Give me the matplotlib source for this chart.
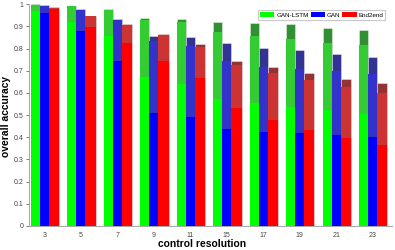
import matplotlib
matplotlib.use("Agg")
import matplotlib.pyplot as plt
import numpy as np
from matplotlib.patches import Patch

plt.rcParams['font.family'] = ['Liberation Sans', 'DejaVu Sans']

categories = ['3', '5', '7', '9', '11', '15', '17', '19', '21', '23']
series = ['GAN-LSTM', 'GAN', 'End2end']

# upper (max), middle, lower (min) accuracy values per series
gan_lstm_top = [1.000, 0.992, 0.979, 0.937, 0.935, 0.920, 0.914, 0.910, 0.895, 0.886]
gan_lstm_mid = [0.997, 0.990, 0.974, 0.929, 0.920, 0.877, 0.856, 0.844, 0.827, 0.816]
gan_lstm_low = [0.970, 0.920, 0.857, 0.674, 0.640, 0.574, 0.553, 0.538, 0.523, 0.505]

gan_top = [0.997, 0.977, 0.934, 0.857, 0.853, 0.823, 0.802, 0.795, 0.775, 0.763]
gan_mid = [0.990, 0.973, 0.929, 0.836, 0.813, 0.746, 0.719, 0.709, 0.699, 0.687]
gan_low = [0.960, 0.880, 0.746, 0.510, 0.490, 0.438, 0.426, 0.418, 0.409, 0.400]

e2e_top = [0.989, 0.949, 0.910, 0.866, 0.820, 0.746, 0.718, 0.688, 0.663, 0.643]
e2e_mid = [0.985, 0.945, 0.905, 0.860, 0.809, 0.727, 0.691, 0.660, 0.627, 0.600]
e2e_low = [0.977, 0.899, 0.827, 0.746, 0.667, 0.532, 0.480, 0.433, 0.396, 0.366]

tops = [gan_lstm_top, gan_top, e2e_top]
mids = [gan_lstm_mid, gan_mid, e2e_mid]
lows = [gan_lstm_low, gan_low, e2e_low]

dark = ['#338f33', '#333393', '#933333']
medium = ['#33cc33', '#3333cc', '#cc3333']
bright = ['#00ff00', '#0000ff', '#ff0000']
offsets = [-0.245, 0.0, 0.265]
widths = [0.25, 0.25, 0.28]

fig = plt.figure(figsize=(3.95, 2.5), dpi=100)
ax = fig.add_axes([0.0742, 0.096, 0.9174, 0.887])

x = np.arange(1, len(categories) + 1)
for i in range(3):
    ax.bar(x + offsets[i], tops[i], width=widths[i], color=dark[i],
           edgecolor=(1, 1, 1, 0.45), linewidth=0.6, zorder=2)
    ax.bar(x + offsets[i], mids[i], width=widths[i], color=medium[i],
           linewidth=0, zorder=3)
    ax.bar(x + offsets[i], lows[i], width=widths[i], color=bright[i],
           linewidth=0, zorder=4)

ax.set_xlim(0.59, 10.52)
ax.set_ylim(0, 1)
ax.set_xticks(x)
ax.set_xticklabels(categories)
ax.set_yticks(np.arange(0, 1.01, 0.1))
ax.set_yticklabels(['0', '0.1', '0.2', '0.3', '0.4', '0.5', '0.6', '0.7', '0.8', '0.9', '1'])
ax.tick_params(axis='both', labelsize=5, colors='#444444', length=2, width=0.5, pad=2)
ax.tick_params(axis='x', length=0, pad=4.5)
for s in ['top', 'right']:
    ax.spines[s].set_visible(False)
for s in ['left', 'bottom']:
    ax.spines[s].set_color('#aaaaaa')
    ax.spines[s].set_linewidth(0.8)

ax.set_xlabel('control resolution', fontsize=7.4, fontweight='bold', va='center')
ax.xaxis.set_label_coords(0.477, -0.083)
ax.set_ylabel('overall accuracy', fontsize=7.4, fontweight='bold', va='center')
ax.yaxis.set_label_coords(-0.0635, 0.494)

handles = [Patch(facecolor=bright[i], edgecolor='none', label=series[i]) for i in range(3)]
leg = ax.legend(handles=handles, loc='upper right', bbox_to_anchor=(0.982, 0.973),
                ncol=3, fontsize=4.5, frameon=True, fancybox=False,
                handlelength=2.3, handleheight=0.9, handletextpad=0.3,
                columnspacing=0.3, borderpad=0.3, borderaxespad=0)
leg.get_frame().set_edgecolor('#bbbbbb')
leg.get_frame().set_linewidth(0.8)

fig.savefig('out.png', dpi=100)
